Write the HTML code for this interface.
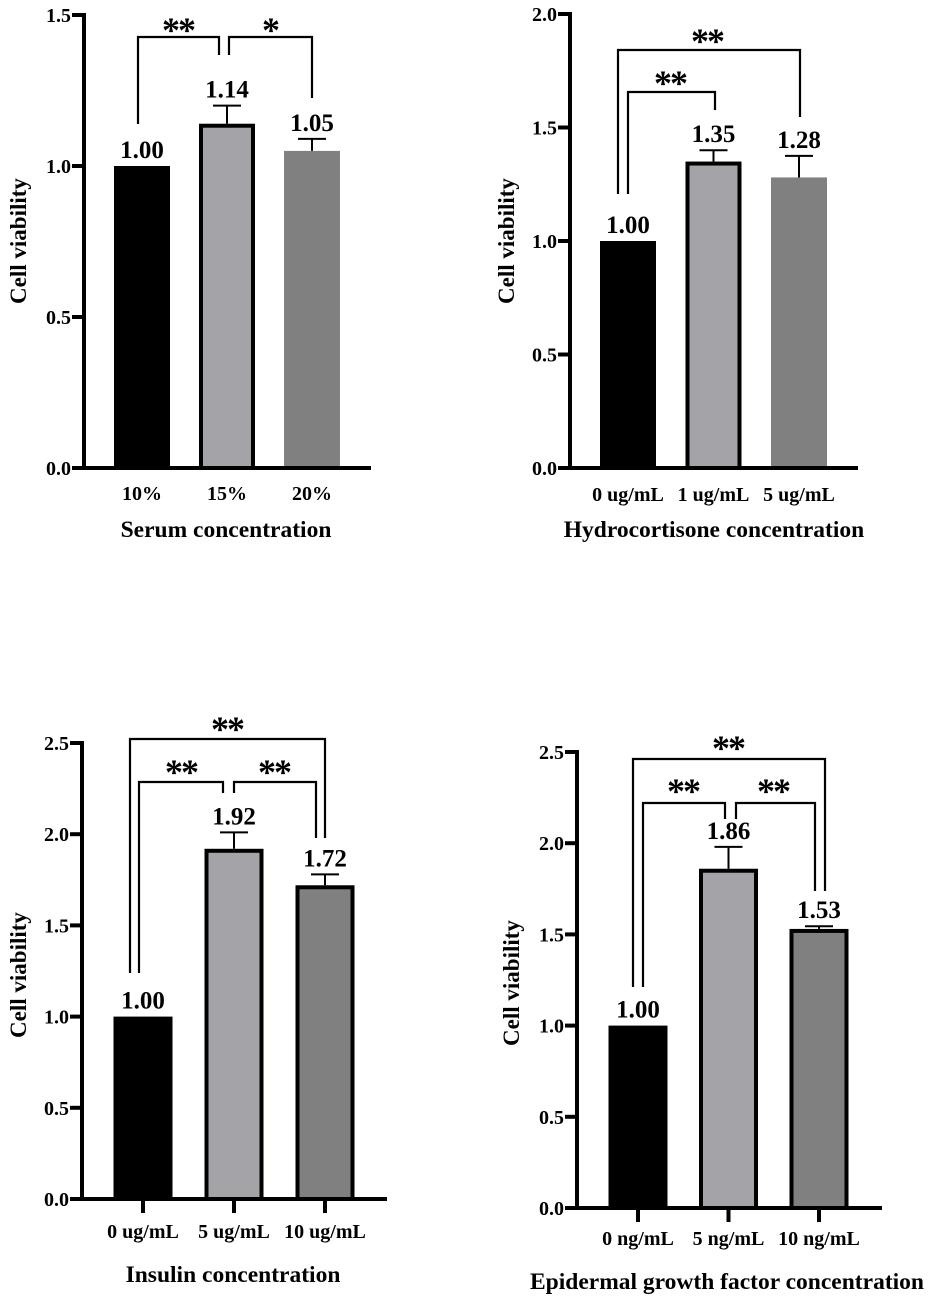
<!DOCTYPE html>
<html><head><meta charset="utf-8"><style>
html,body{margin:0;padding:0;background:#fff;}
svg{display:block;font-family:"Liberation Serif",serif;font-weight:bold;}
</style></head><body>
<svg id="fig" width="935" height="1300" viewBox="0 0 935 1300" xmlns="http://www.w3.org/2000/svg"></svg>
<script>
// Panel A: serum
const serumCategories = ["10%", "15%", "20%"];
const serumValues = [1.00, 1.14, 1.05];
const serumErrors = [0, 0.06, 0.04];
const serumTicks = [0, 0.5, 1.0, 1.5];
// Panel B: hydrocortisone
const hydroCategories = ["0 ug/mL", "1 ug/mL", "5 ug/mL"];
const hydroValues = [1.00, 1.35, 1.28];
const hydroErrors = [0, 0.05, 0.095];
const hydroTicks = [0, 0.5, 1.0, 1.5, 2.0];
// Panel C: insulin
const insulinCategories = ["0 ug/mL", "5 ug/mL", "10 ug/mL"];
const insulinValues = [1.00, 1.92, 1.72];
const insulinErrors = [0, 0.09, 0.06];
const insulinTicks = [0, 0.5, 1.0, 1.5, 2.0, 2.5];
// Panel D: EGF
const egfCategories = ["0 ng/mL", "5 ng/mL", "10 ng/mL"];
const egfValues = [1.00, 1.86, 1.53];
const egfErrors = [0, 0.12, 0.015];
const egfTicks = [0, 0.5, 1.0, 1.5, 2.0, 2.5];

const NS = "http://www.w3.org/2000/svg";
const svg = document.getElementById("fig");
function mk(tag, attrs, parent) {
  const e = document.createElementNS(NS, tag);
  for (const k in attrs) e.setAttribute(k, attrs[k]);
  (parent || svg).appendChild(e);
  return e;
}
const fills = ["#000000", "#a4a3a8", "#808080"];

const panels = [
  {id:"serum", cats:serumCategories, vals:serumValues, errs:serumErrors, ticks:serumTicks,
   ax:84, xend:371, y0:468, ytop:15, ymax:1.5, c0:142, sp:85, bw:56, border:[false,true,false], xticks:false,
   labY:500, title:"Serum concentration", titleX:226, titleY:537, yTitleX:26, yTitleY:241,
   brackets:[{x1:138,x2:219,y:37,l:124,r:55,s:"**",sx:178,sy:20},{x1:229,x2:312,y:37,l:55,r:98,s:"*",sx:270,sy:20}]},
  {id:"hydrocortisone", cats:hydroCategories, vals:hydroValues, errs:hydroErrors, ticks:hydroTicks,
   ax:570, xend:858, y0:468, ytop:14, ymax:2.0, c0:628, sp:85.5, bw:56, border:[false,true,false], xticks:false,
   labY:501, title:"Hydrocortisone concentration", titleX:714, titleY:537, yTitleX:514, yTitleY:241,
   brackets:[{x1:618,x2:800,y:50,l:194,r:117,s:"**",sx:707,sy:31},{x1:628,x2:715,y:92,l:194,r:110,s:"**",sx:670,sy:73}]},
  {id:"insulin", cats:insulinCategories, vals:insulinValues, errs:insulinErrors, ticks:insulinTicks,
   ax:82, xend:387, y0:1199, ytop:743, ymax:2.5, c0:143, sp:91, bw:59, border:[false,true,true], xticks:true,
   labY:1238, title:"Insulin concentration", titleX:233, titleY:1282, yTitleX:26, yTitleY:975,
   brackets:[{x1:130,x2:325,y:739,l:973,r:838,s:"**",sx:227,sy:719},{x1:139,x2:223,y:782,l:973,r:793,s:"**",sx:181,sy:762},{x1:234,x2:316,y:782,l:793,r:838,s:"**",sx:274,sy:762}]},
  {id:"egf", cats:egfCategories, vals:egfValues, errs:egfErrors, ticks:egfTicks,
   ax:577, xend:882, y0:1208, ytop:752, ymax:2.5, c0:638, sp:90.5, bw:59, border:[false,true,true], xticks:true,
   labY:1245, title:"Epidermal growth factor concentration", titleX:727, titleY:1289, yTitleX:519, yTitleY:983,
   brackets:[{x1:633,x2:825,y:759,l:987,r:891,s:"**",sx:728,sy:738},{x1:643,x2:725,y:803,l:987,r:819,s:"**",sx:683,sy:781},{x1:736,x2:815,y:803,l:819,r:891,s:"**",sx:773,sy:781}]}
];

panels.forEach(p => {
  const g = mk("g", {});
  
  
  const ys = v => p.y0 - (v / p.ymax) * (p.y0 - p.ytop);
  const xs = i => p.c0 + i * p.sp;
  p.vals.forEach((v, i) => {
    const x = xs(i) - p.bw / 2, y = ys(v);
    let r;
    if (p.border[i]) {
      r = mk("rect", {x:x+2, y:y+2, width:p.bw-4, height:p.y0-y-2, fill:fills[i], stroke:"#000", "stroke-width":4}, g);
    } else {
      r = mk("rect", {x:x, y:y, width:p.bw, height:p.y0-y, fill:fills[i]}, g);
    }
    
    
    let top = y;
    if (p.errs[i] > 0) {
      const ye = ys(v + p.errs[i]);
      const eb = mk("path", {d:`M${xs(i)} ${y} V${ye} M${xs(i)-14} ${ye} H${xs(i)+14}`, stroke:"#000", "stroke-width":2, fill:"none"}, g);
      
      
      top = ye;
    }
    const t = mk("text", {x:xs(i), y:top - 8, "text-anchor":"middle", "font-size":25}, g);
    t.textContent = v.toFixed(2);
    
    
    const cl = mk("text", {x:xs(i), y:p.labY, "text-anchor":"middle", "font-size":20}, g);
    cl.textContent = p.cats[i];
    
    
    if (p.xticks) {
      const tk = mk("line", {x1:xs(i), x2:xs(i), y1:p.y0, y2:p.y0+14, stroke:"#000", "stroke-width":4}, g);
      
      
    }
  });
  const axes = mk("path", {d:`M${p.ax} ${p.ytop-2} V${p.y0} H${p.xend}`, stroke:"#000", "stroke-width":4, fill:"none"}, g);
  
  
  p.ticks.forEach(tv => {
    const y = ys(tv);
    const tl = mk("line", {x1:p.ax-12, x2:p.ax, y1:y, y2:y, stroke:"#000", "stroke-width":4}, g);
    
    
    const tt = mk("text", {x:p.ax-13, y:y+7, "text-anchor":"end", "font-size":20}, g);
    tt.textContent = tv.toFixed(1);
    
    
  });
  const xt = mk("text", {x:p.titleX, y:p.titleY, "text-anchor":"middle", "font-size":23.5}, g);
  xt.textContent = p.title;
  
  
  const yt = mk("text", {x:0, y:0, "text-anchor":"middle", "font-size":23, transform:`translate(${p.yTitleX},${p.yTitleY}) rotate(-90)`}, g);
  yt.textContent = "Cell viability";
  
  
  p.brackets.forEach((b, k) => {
    const br = mk("path", {d:`M${b.x1} ${b.l} V${b.y} H${b.x2} V${b.r}`, stroke:"#000", "stroke-width":2.2, fill:"none"}, g);
    
    
    const st = mk("text", {x:b.sx, y:b.sy + 22, "text-anchor":"middle", "font-size":36, "letter-spacing":"-2"}, g);
    st.textContent = b.s;
    
    
  });
});
</script>
</body></html>
